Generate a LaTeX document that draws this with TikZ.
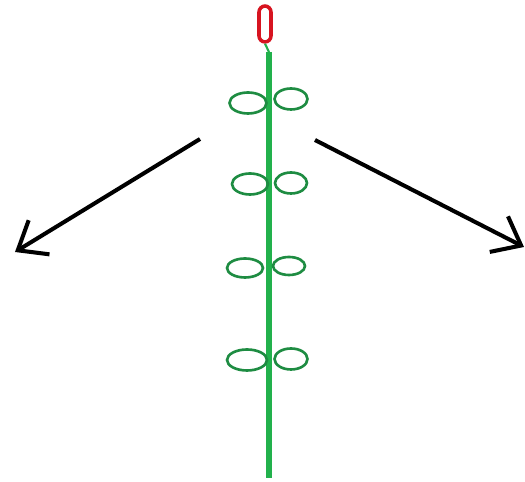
\documentclass[tikz,border=0pt]{standalone}
\usepackage{xcolor}
\usetikzlibrary{shapes.geometric, arrows.meta, positioning}

\definecolor{stemgreen}{RGB}{34,177,76}
\definecolor{leafgreen}{RGB}{30,140,66}
\definecolor{budred}{RGB}{215,20,32}

\begin{document}
\begin{tikzpicture}[
    x=0.02cm, y=-0.02cm,
    bud/.style={rectangle, rounded corners=3.5pt, draw=budred, line width=2pt,
                inner sep=0pt, minimum width=0.24cm, minimum height=0.72cm},
    leaf/.style={ellipse, draw=leafgreen, line width=1.5pt, inner sep=0pt,
                 minimum width=0.74cm, minimum height=0.42cm},
    stem/.style={draw=stemgreen, line width=3.4pt},
    arr/.style={-{Straight Barb[length=5mm, width=8mm, line width=2.3pt]},
                line width=2.3pt, black},
]
\useasboundingbox (0,0) rectangle (525,482);

%% Bud and stem
\node[bud] (bud) at (265,24) {};
\coordinate (top)  at (269,52);
\coordinate (root) at (269,478);
\draw[stem] (top) -- (root);
\draw[stemgreen, line width=1.2pt] (bud.south) -- (top);

%% Leaf pairs
\node[leaf]                    (l1) at (248,103) {};
\node[leaf, minimum width=0.66cm] (r1) at (291,99) {};
\node[leaf, minimum width=0.72cm] (l2) at (250,184) {};
\node[leaf, minimum width=0.64cm] (r2) at (291,183) {};
\node[leaf, minimum width=0.72cm, minimum height=0.38cm] (l3) at (245,268) {};
\node[leaf, minimum width=0.64cm, minimum height=0.36cm] (r3) at (289,266) {};
\node[leaf, minimum width=0.80cm] (l4) at (247,360) {};
\node[leaf, minimum width=0.66cm] (r4) at (291,359) {};

%% Arrows
\coordinate (lfrom) at (200,139);
\coordinate (lto)   at (15,252);
\coordinate (rfrom) at (315,140);
\coordinate (rto)   at (524,247);
\draw[arr] (lfrom) -- (lto);
\draw[arr] (rfrom) -- (rto);
\end{tikzpicture}
\end{document}
